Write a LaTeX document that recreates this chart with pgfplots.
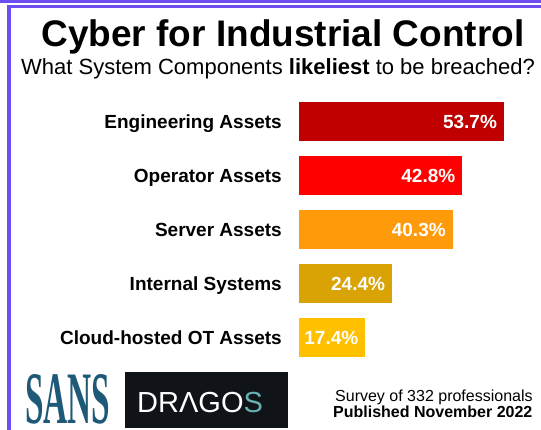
\documentclass[border=0pt]{standalone}
\usepackage{fontspec}
\setmainfont{Liberation Sans}
\newfontfamily\logoserif{Liberation Serif}
\usepackage{pgfplots}
\pgfplotsset{compat=1.18}

\definecolor{frame}{RGB}{110,78,240}
\definecolor{barA}{HTML}{C00000}
\definecolor{barB}{HTML}{FF0000}
\definecolor{barC}{HTML}{FF9A0A}
\definecolor{barD}{HTML}{D9A306}
\definecolor{barE}{HTML}{FFC000}
\definecolor{sansblue}{HTML}{1E5A78}
\definecolor{dragbg}{HTML}{101418}

\begin{document}
\begin{tikzpicture}[x=1pt,y=1pt]
\useasboundingbox (0,0) rectangle (541,430);
\clip (0,0) rectangle (541,430);
\fill[white] (0,0) rectangle (541,430);
% frame
\draw[frame,line width=2.5pt] (0,428.5) -- (541,428.5);
\draw[frame,line width=3pt] (7,423.5) -- (541,423.5);
\draw[frame,line width=4pt] (9,425) -- (9,0);

% titles
\node[anchor=base,inner sep=0] at (283,383)
  {\fontsize{37}{40}\selectfont\bfseries Cyber for Industrial Control};
\node[anchor=base west,inner sep=0] at (21,355)
  {\fontsize{22}{24}\selectfont What System Components \textbf{likeliest} to be breached?};

\begin{axis}[
  at={(299pt,65.5pt)}, anchor=south west,
  scale only axis, width=229.2pt, height=270pt,
  xmin=0, xmax=60, ymin=-0.5, ymax=4.5, y dir=reverse,
  xbar, bar width=39pt, bar shift=0pt,
  hide x axis,
  axis y line=left, y axis line style={draw=none},
  major tick length=0pt,
  ytick={0,1,2,3,4},
  yticklabels={Engineering Assets,Operator Assets,Server Assets,Internal Systems,Cloud-hosted OT Assets},
  yticklabel style={font=\fontsize{19}{20}\selectfont\bfseries, anchor=base east,
    inner sep=0pt, xshift=-17pt, yshift=-7pt},
  clip=false,
  point meta=x,
  nodes near coords={\pgfmathprintnumber[fixed,zerofill,precision=1,assume math mode=true]{\pgfplotspointmeta}\%},
  every node near coord/.append style={anchor=base east, inner sep=0pt, xshift=-7pt, yshift=-7pt,
    text=white, font=\fontsize{19}{20}\selectfont\bfseries},
]
\addplot[fill=barA, draw=none] coordinates {(53.7,0)};
\addplot[fill=barB, draw=none] coordinates {(42.8,1)};
\addplot[fill=barC, draw=none] coordinates {(40.3,2)};
\addplot[fill=barD, draw=none] coordinates {(24.4,3)};
\addplot[fill=barE, draw=none] coordinates {(17.4,4)};
\end{axis}

% logos
\node[anchor=base west,inner sep=0,text=sansblue] at (25,6)
  {\scalebox{0.45}[1]{\fontsize{74}{76}\logoserif\bfseries SANS}};
\fill[dragbg] (125,2) rectangle (288,58);
\node[anchor=base west,inner sep=0,text=white] at (137,17)
  {\fontsize{29}{30}\selectfont DRΛGO\textcolor{teal!60!white}{S}};

% footnote
\node[anchor=base west,inner sep=0] at (335,28.5)
  {\fontsize{16}{17}\selectfont Survey of 332 professionals};
\node[anchor=base west,inner sep=0] at (333,12.8)
  {\fontsize{16}{17}\selectfont\bfseries Published November 2022};
\end{tikzpicture}
\end{document}
